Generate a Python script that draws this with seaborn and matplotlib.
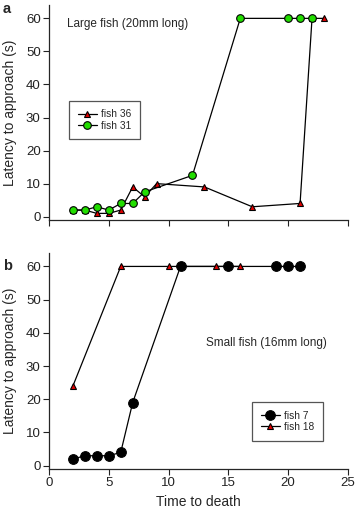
import pandas as pd
import matplotlib
matplotlib.use('Agg')
import matplotlib.pyplot as plt
import seaborn as sns

# Panel a: large fish (20mm)
x_fish36 = [2, 3, 4, 5, 6, 7, 8, 9, 13, 17, 21, 22, 23]
y_fish36 = [2, 2, 1, 1, 2, 9, 6, 10, 9, 3, 4, 60, 60]
x_fish31 = [2, 3, 4, 5, 6, 7, 8, 12, 16, 20, 21, 22]
y_fish31 = [2, 2, 3, 2, 4, 4, 7.5, 12.5, 60, 60, 60, 60]

# Panel b: small fish (16mm)
x_fish7 = [2, 3, 4, 5, 6, 7, 11, 15, 19, 20, 21]
y_fish7 = [2, 3, 3, 3, 4, 19, 60, 60, 60, 60, 60]
x_fish18 = [2, 6, 10, 14, 16]
y_fish18 = [24, 60, 60, 60, 60]

xticks = [0, 5, 10, 15, 20, 25]
yticks = [0, 10, 20, 30, 40, 50, 60]

sns.set_style('ticks')
plt.rcParams['font.family'] = ['Liberation Sans', 'DejaVu Sans']

fig = plt.figure(figsize=(3.55, 5.14), dpi=100)
ax1 = fig.add_axes([0.138, 0.572, 0.842, 0.418])
ax2 = fig.add_axes([0.138, 0.0875, 0.842, 0.420])

tri = dict(marker='^', color='black', markerfacecolor='#e00000',
           markeredgecolor='black', markersize=5, linewidth=0.9, markeredgewidth=0.8)

# Panel a
sns.lineplot(x=x_fish36, y=y_fish36, ax=ax1, label='fish 36', **tri)
sns.lineplot(x=x_fish31, y=y_fish31, ax=ax1, label='fish 31', marker='o',
             color='black', markerfacecolor='#22dd00', markeredgecolor='black',
             markersize=5.5, linewidth=0.9, markeredgewidth=0.8)

# Panel b
sns.lineplot(x=x_fish7, y=y_fish7, ax=ax2, label='fish 7', marker='o',
             color='black', markerfacecolor='black', markeredgecolor='black',
             markersize=7, linewidth=0.9)
sns.lineplot(x=x_fish18, y=y_fish18, ax=ax2, label='fish 18', **tri)

for ax in (ax1, ax2):
    ax.set_xlim(0, 25)
    ax.set_ylim(-1, 64)
    ax.set_xticks(xticks)
    ax.set_yticks(yticks)
    ax.tick_params(labelsize=9.5, length=4, width=0.8, colors='#222222', pad=2)
    ax.set_ylabel('Latency to approach (s)', fontsize=10, labelpad=6)
    for s in ('left', 'bottom'):
        ax.spines[s].set_linewidth(0.9)
    sns.despine(ax=ax)

ax1.set_xticklabels([])
ax1.set_xlabel('')
ax2.set_xlabel('Time to death', fontsize=10, labelpad=4)

ax1.text(1.5, 58.3, 'Large fish (20mm long)', fontsize=8.5, va='center', ha='left')
ax2.text(13.1, 37, 'Small fish (16mm long)', fontsize=8.5, va='center', ha='left')

fig.text(0.008, 0.982, 'a', fontsize=10.5, fontweight='bold', va='center')
fig.text(0.008, 0.482, 'b', fontsize=10.5, fontweight='bold', va='center')

leg_kw = dict(fontsize=7.3, frameon=True, fancybox=False, edgecolor='#555555',
              framealpha=1, handlelength=1.9, borderpad=0.85, labelspacing=0.12,
              handletextpad=0.4, borderaxespad=0)
l1 = ax1.legend(loc='upper left', bbox_to_anchor=(0.067, 0.555), **leg_kw)
l2 = ax2.legend(loc='upper left', bbox_to_anchor=(0.68, 0.31), **leg_kw)
for l in (l1, l2):
    l.get_frame().set_linewidth(0.9)

fig.savefig('out.png', dpi=100)
